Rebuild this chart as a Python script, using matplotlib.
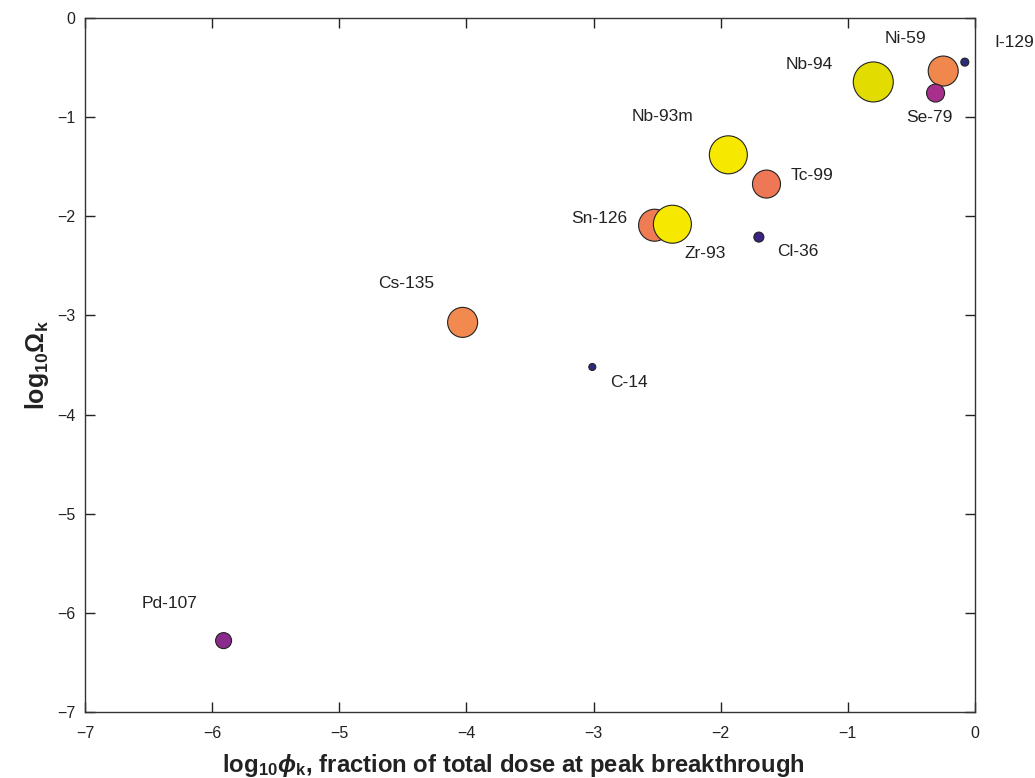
import matplotlib
matplotlib.use("Agg")
import matplotlib.pyplot as plt

plt.rcParams['font.family'] = ['Liberation Sans', 'DejaVu Sans']
plt.rcParams['mathtext.fontset'] = 'custom'
plt.rcParams['mathtext.rm'] = 'Liberation Sans'
plt.rcParams['mathtext.it'] = 'Liberation Sans:italic'
plt.rcParams['mathtext.bf'] = 'Liberation Sans:bold'
plt.rcParams['mathtext.bfit'] = 'Liberation Sans:bold:italic'

nuclides = ['Pd-107', 'Cs-135', 'C-14', 'Sn-126', 'Zr-93', 'Cl-36', 'Nb-93m',
            'Tc-99', 'Nb-94', 'Ni-59', 'Se-79', 'I-129']
log_phi = [-5.91, -4.03, -3.01, -2.52, -2.38, -1.70, -1.94, -1.64, -0.80, -0.25, -0.31, -0.08]
log_omega = [-6.28, -3.07, -3.52, -2.09, -2.08, -2.21, -1.38, -1.675, -0.645, -0.535, -0.757, -0.445]
marker_radius = [8, 15, 3.5, 16, 19, 5, 19, 14, 20, 15, 9, 4]
colors = ['#8a2a8c', '#f28a4f', '#2a2c78', '#ef7c55', '#f7e800', '#3b2285', '#f7e800',
          '#ee7755', '#e2dc00', '#f0884e', '#a8308c', '#2b2d7a']
label_offsets = [(-54, 37), (-56, 39), (37, -16), (-55, 7), (33, -29), (39, -14), (-66, 38),
                 (46, 9), (-64, 17), (-38, 33), (-6, -24), (49, 20)]

fig = plt.figure(figsize=(10.35, 7.78), dpi=100)
ax = fig.add_axes([85/1035, 66/778, 890/1035, 694/778])

sizes = [(2 * r * 0.72) ** 2 for r in marker_radius]
ax.scatter(log_phi, log_omega, s=sizes, c=colors, edgecolors='#222222', linewidths=0.8, zorder=3)

for name, x, y, off in zip(nuclides, log_phi, log_omega, label_offsets):
    ax.annotate(name, (x, y), xytext=(off[0] * 0.72, off[1] * 0.72),
                textcoords='offset points', ha='center', va='center',
                fontsize=12.5, color='#222222', annotation_clip=False)

ax.set_xlim(-7, 0)
ax.set_ylim(-7, 0)
ax.set_xticks(range(-7, 1))
ax.set_yticks(range(-7, 1))
ax.tick_params(direction='in', top=True, right=True, length=7, width=1,
               labelsize=11.5, colors='#222222', pad=7)
ax.tick_params(axis='x', pad=10)
for s in ax.spines.values():
    s.set_color('#333333')
    s.set_linewidth(1)

ax.set_xlabel(r'$\mathbf{log_{10}}\boldsymbol{\phi}_\mathbf{k}$, fraction of total dose at peak breakthrough',
              fontsize=17.2, fontweight='bold', color='#222222')
ax.xaxis.set_label_coords(0.481, -0.058)
ax.set_ylabel(r'$\mathbf{log_{10}\Omega_k}$', fontsize=18, fontweight='bold', color='#222222', labelpad=4)

fig.savefig('out.png', dpi=100)
